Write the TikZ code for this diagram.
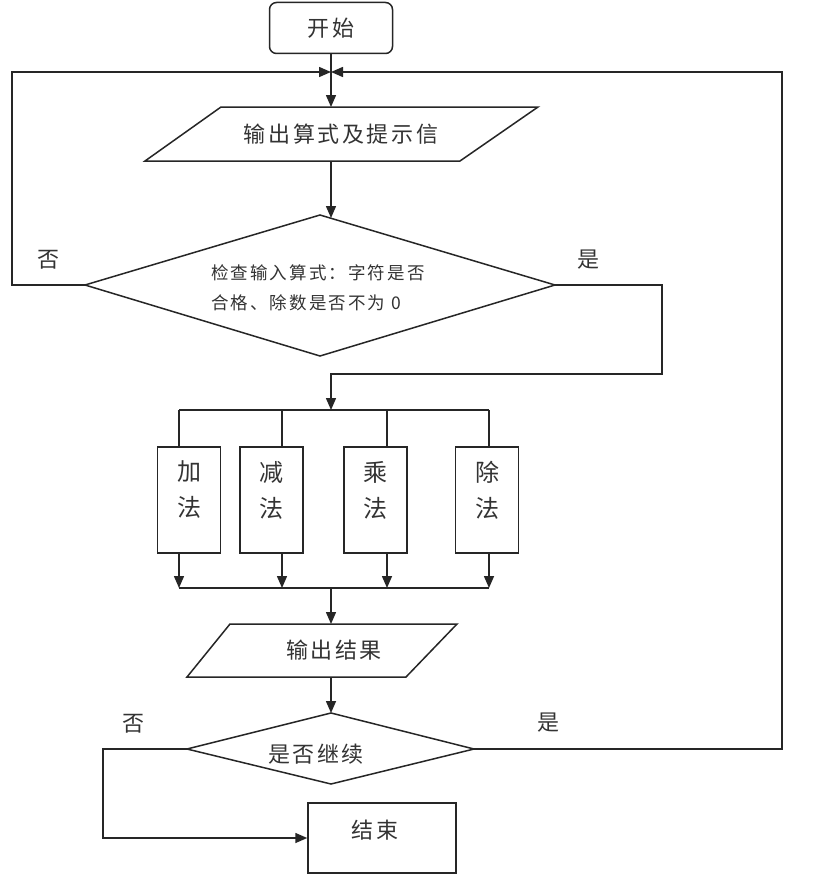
\documentclass[tikz,border=0pt]{standalone}
\usepackage{fontspec}
\newfontfamily\cjk[LetterSpace=12]{Noto Sans CJK SC}
\usetikzlibrary{arrows.meta}
\tikzset{
  ln/.style={line width=1.5pt, draw=black!85, line join=miter},
  thk/.style={line width=2.6pt, draw=black!90},
  arr/.style={ln, -{Triangle[length=12pt,width=10pt]}},
  txt/.style={inner sep=0pt, text=black!80, font=\cjk\fontsize{22}{26}\selectfont},
  smalltxt/.style={inner sep=0pt, text=black!80, align=left, font=\cjk\fontsize{17.5}{30}\selectfont},
  boxtxt/.style={inner sep=0pt, text=black!80, align=center, font=\cjk\fontsize{24}{36}\selectfont},
  opbox/.style={ln, draw, fill=white, minimum width=63pt, minimum height=106pt, inner sep=0pt},
  startbox/.style={ln, draw, rounded corners=7pt, minimum width=123pt, minimum height=51pt, inner sep=0pt, text=black!80, font=\cjk\fontsize{22}{26}\selectfont},
  endbox/.style={ln, draw, minimum width=148pt, minimum height=70pt, inner sep=0pt}
}
\begin{document}
\begin{tikzpicture}[x=1pt,y=-1pt]
\useasboundingbox (0,0) rectangle (830,875);
\fill[white] (0,0) rectangle (830,875);

% columns for loops
\coordinate (lx) at (12,0);
\coordinate (rx) at (782,0);
\coordinate (rx2) at (662,0);
\coordinate (bx) at (103,0);

% start
\node[startbox] (start) at (331,28) {开始};
\coordinate (J) at (331,72);

% output formula parallelogram
\coordinate (p1a) at (221,107);
\coordinate (p1b) at (538,107);
\coordinate (p1c) at (460,161);
\coordinate (p1d) at (145,161);
\coordinate (p1top) at (331,107);
\coordinate (p1bot) at (331,161);
\draw[ln] (p1a) -- (p1b) -- (p1c) -- (p1d) -- cycle;
\node[txt] (p1) at (341,134) {输出算式及提示信};

% check diamond
\coordinate (d1t) at (320,215);
\coordinate (d1l) at (85,285);
\coordinate (d1r) at (555,285);
\coordinate (d1b) at (320,356);
\coordinate (d1in) at (331,218);
\draw[ln] (d1t) -- (d1r) -- (d1b) -- (d1l) -- cycle;
\node[smalltxt, anchor=west] (d1) at (211,288) {检查输入算式：字符是否\\合格、除数是否不为 0};
\node[txt] (no1) at (48,260) {否};
\node[txt] (yes1) at (588,260) {是};

% bus
\coordinate (m1) at (331,374);
\coordinate (bustop) at (331,410);
\coordinate (v1) at (179,410);
\coordinate (v2) at (282,410);
\coordinate (v3) at (387,410);
\coordinate (v4) at (489,410);
\coordinate (w1) at (179,588);
\coordinate (w2) at (282,588);
\coordinate (w3) at (387,588);
\coordinate (w4) at (489,588);
\coordinate (busbot) at (331,588);

\node[opbox] (b1) at (189,500) {};
\node[opbox] (b2) at (271.5,500) {};
\node[opbox] (b3) at (375.5,500) {};
\node[opbox] (b4) at (487,500) {};
\node[boxtxt, yshift=10pt] (t1) at (b1) {加\\法};
\node[boxtxt, yshift=10pt] (t2) at (b2) {减\\法};
\node[boxtxt, yshift=10pt] (t3) at (b3) {乘\\法};
\node[boxtxt, yshift=10pt] (t4) at (b4) {除\\法};

% output result parallelogram
\coordinate (p2a) at (230,624);
\coordinate (p2b) at (457,624);
\coordinate (p2c) at (406,677);
\coordinate (p2d) at (187,677);
\coordinate (p2top) at (331,624);
\coordinate (p2bot) at (331,677);
\draw[ln] (p2a) -- (p2b) -- (p2c) -- (p2d) -- cycle;
\node[txt] (p2) at (334,650) {输出结果};

% continue diamond
\coordinate (d2t) at (331,713);
\coordinate (d2l) at (187,749);
\coordinate (d2r) at (474,749);
\coordinate (d2b) at (331,784);
\draw[ln] (d2t) -- (d2r) -- (d2b) -- (d2l) -- cycle;
\node[txt] (d2) at (316,754) {是否继续};
\node[txt] (no2) at (133,724) {否};
\node[txt] (yes2) at (548,723) {是};

% end
\node[endbox] (end) at (382,838) {};
\node[txt] (endt) at (375,830) {结束};

% connectors
\draw[arr] (start) -- (p1top);
\draw[arr] (p1bot) -- (d1in);
\draw[thk] (d1l) -- (d1l -| lx);
\draw[arr] (d1l) -- (d1l -| lx) |- (J);
\draw[thk] (d1r) -- (d1r -| rx2);
\draw[arr] (d1r) -- (d1r -| rx2) |- (m1) -- (bustop);
\draw[ln] (v1) -- (v4);
\draw[ln] (v1) -- (v1 |- b1.north);
\draw[ln] (v2) -- (v2 |- b2.north);
\draw[ln] (v3) -- (v3 |- b3.north);
\draw[ln] (v4) -- (v4 |- b4.north);
\draw[arr] (v1 |- b1.south) -- (w1);
\draw[arr] (v2 |- b2.south) -- (w2);
\draw[arr] (v3 |- b3.south) -- (w3);
\draw[arr] (v4 |- b4.south) -- (w4);
\draw[ln] (w1) -- (w4);
\draw[arr] (busbot) -- (p2top);
\draw[arr] (p2bot) -- (d2t);
\draw[arr] (d2l) -- (d2l -| bx) |- (end);
\draw[arr] (d2r) -- (d2r -| rx) |- (J);
\end{tikzpicture}
\end{document}
